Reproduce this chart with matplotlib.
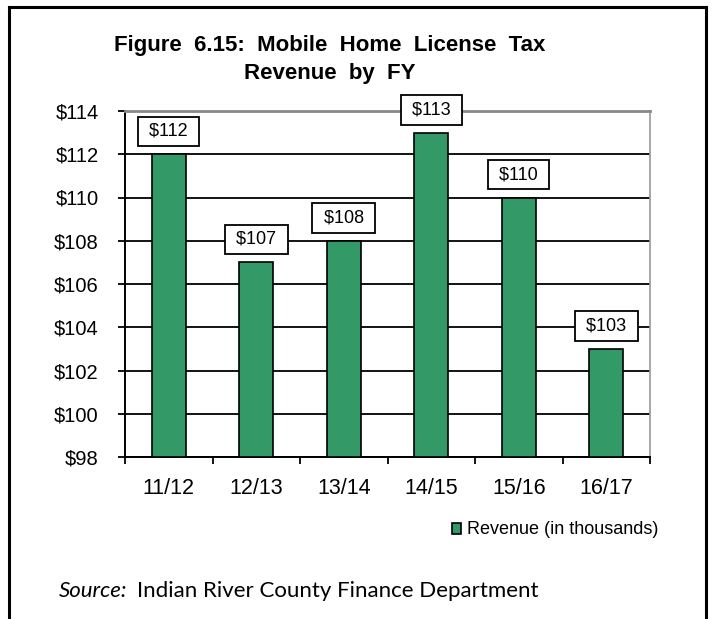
import matplotlib.pyplot as plt
from matplotlib.patches import Rectangle

## Data
years = ['11/12', '12/13', '13/14', '14/15', '15/16', '16/17']
revenue = [112, 107, 108, 113, 110, 103]
yticks = [98, 100, 102, 104, 106, 108, 110, 112, 114]

bar_color = '#339966'
plt.rcParams['font.family'] = ['Liberation Sans', 'DejaVu Sans']

W, H = 715, 619
fig = plt.figure(figsize=(W / 100, H / 100), dpi=100)

def fx(px):
    return px / W

def fy(py):
    return 1 - py / H

## Outer frame (no bottom edge, it runs off the picture)
for xs, ys in [([9, 9], [7, H]), ([706, 706], [7, H]), ([9, 706], [7, 7])]:
    fig.add_artist(plt.Line2D([fx(v) for v in xs], [fy(v) for v in ys], color='black',
                              lw=2.2, solid_capstyle='projecting'))

ax = fig.add_axes((fx(125), fy(457), fx(650) - fx(125), fy(111) - fy(457)))

x = list(range(len(years)))
ax.bar(x, [v - 98 for v in revenue], bottom=98, width=0.39, color=bar_color,
       edgecolor='black', linewidth=1.2, zorder=3)

ax.set_ylim(98, 114)
ax.set_xlim(-0.5, len(years) - 0.5)
ax.set_yticks(yticks)
ax.set_yticklabels(['${}'.format(t) for t in yticks], fontsize=14.5)
ax.yaxis.grid(True, color='black', lw=1.3, zorder=0)
ax.set_xticks(x)
ax.set_xticklabels(years, fontsize=15.5)
ax.set_xticks([i - 0.5 for i in range(len(years) + 1)], minor=True)
ax.tick_params(axis='x', which='major', length=0, pad=15)
ax.tick_params(axis='x', which='minor', length=5, width=1.3, direction='out')
ax.tick_params(axis='y', length=5, width=1.3, direction='out', pad=14)

ax.spines['top'].set_color('#888888')
ax.spines['top'].set_linewidth(2)
ax.spines['right'].set_color('#999999')
ax.spines['right'].set_linewidth(1.2)
ax.spines['left'].set_linewidth(1.4)
ax.spines['bottom'].set_linewidth(1.4)

## Value labels in boxes above bars
for i, v in enumerate(revenue):
    ax.annotate(' ${} '.format(v), (i, v), xytext=(0, 16.5), textcoords='offset points',
                ha='center', va='center', fontsize=13, zorder=5, annotation_clip=False,
                bbox=dict(boxstyle='square,pad=0.35', fc='white', ec='black', lw=1.3))

## Title
fig.text(fx(330), fy(46), 'Figure  6.15:  Mobile  Home  License  Tax', ha='center', va='center',
         fontsize=16, fontweight='bold')
fig.text(fx(330), fy(73), 'Revenue  by  FY', ha='center', va='center',
         fontsize=16, fontweight='bold')

## Legend
fig.add_artist(Rectangle((fx(452), fy(534)), fx(461) - fx(452), fy(523) - fy(534),
                         facecolor=bar_color, edgecolor='black', lw=1.2))
fig.text(fx(467), fy(530), 'Revenue (in thousands)', ha='left', va='center', fontsize=13)

## Source note
fig.text(fx(59), fy(591), 'Source:', ha='left', va='center', fontsize=16,
         style='italic', family='Lato')
fig.text(fx(137), fy(591), 'Indian River County Finance Department', ha='left',
         va='center', fontsize=16, family='Lato')

fig.savefig('out.png', dpi=100)
